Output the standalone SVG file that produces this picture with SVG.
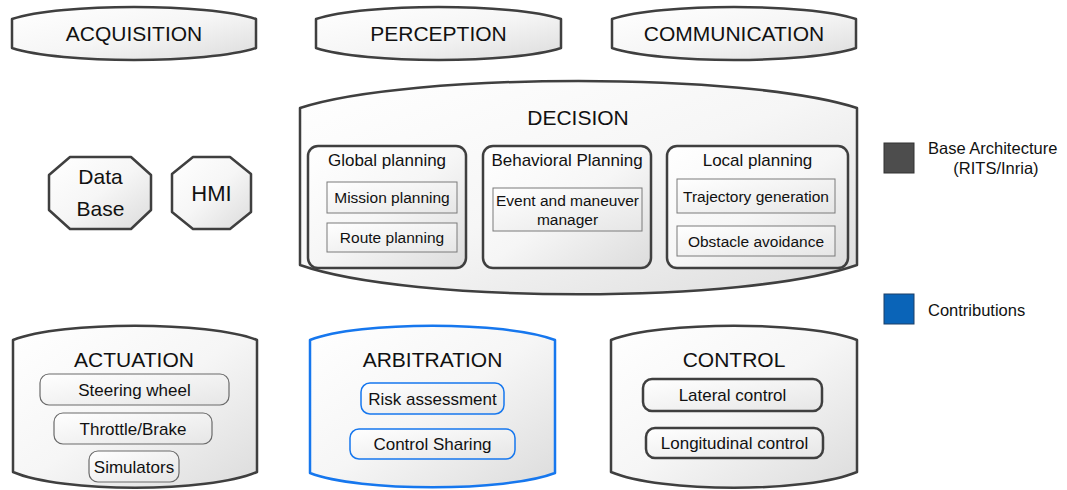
<svg xmlns="http://www.w3.org/2000/svg" width="1067" height="490" viewBox="0 0 1067 490">
<defs>
<linearGradient id="g" x1="0" y1="0" x2="1" y2="1">
<stop offset="0" stop-color="#ffffff"/>
<stop offset="0.5" stop-color="#f6f6f6"/>
<stop offset="1" stop-color="#dcdcdc"/>
</linearGradient>
<linearGradient id="gi" x1="0" y1="0" x2="1" y2="1">
<stop offset="0" stop-color="#ffffff"/>
<stop offset="1" stop-color="#e6e6e6"/>
</linearGradient>
<style>
text{font-family:"Liberation Sans",Arial,sans-serif;fill:#111;text-anchor:middle}
.cyl{fill:url(#g);stroke:#3f3f3f;stroke-width:2.5;stroke-linejoin:round}
.cylb{fill:url(#g);stroke:#1677ee;stroke-width:2.5;stroke-linejoin:round}
.grp{fill:url(#g);stroke:#3f3f3f;stroke-width:2.5}
.inr{fill:url(#gi);stroke:#7a7a7a;stroke-width:1}
.act{fill:url(#gi);stroke:#6a6a6a;stroke-width:1.2}
.arb{fill:url(#gi);stroke:#1677ee;stroke-width:1.5}
.ctl{fill:url(#gi);stroke:#3f3f3f;stroke-width:2.5}
.t1{font-size:21px}
.t2{font-size:17px}
.t3{font-size:15.5px}
.t4{font-size:17px}
.lg{font-size:16.5px;text-anchor:start}
</style>
</defs>
<g id="acquisition">
<path class="cyl" d="M12,19 C61,3 207,3 256,19 L256,48 C207,64 61,64 12,48 Z"/>
<text class="t1" x="134" y="40.5">ACQUISITION</text>
</g>
<g id="perception">
<path class="cyl" d="M316,19 C365,3 512,3 561,19 L561,48 C512,64 365,64 316,48 Z"/>
<text class="t1" x="438.5" y="40.5">PERCEPTION</text>
</g>
<g id="communication">
<path class="cyl" d="M612,19 C661,3 807,3 856,19 L856,48 C807,64 661,64 612,48 Z"/>
<text class="t1" x="734" y="40.5">COMMUNICATION</text>
</g>
<g id="decision">
<path class="cyl" d="M300,108 C411,72 746,72 857,108 L857,265 C746,304 411,304 300,265 Z"/>
<text class="t1" x="578" y="124.5">DECISION</text>
</g>
<g id="global-planning">
<rect class="grp" x="308" y="146" width="158" height="122" rx="10"/>
<text class="t2" x="387" y="166">Global planning</text>
<rect class="inr" x="327" y="182" width="130" height="31"/>
<text class="t3" x="392" y="203">Mission planning</text>
<rect class="inr" x="327" y="223" width="130" height="29"/>
<text class="t3" x="392" y="243">Route planning</text>
</g>
<g id="behavioral-planning">
<rect class="grp" x="483" y="146" width="168" height="122" rx="10"/>
<text class="t2" x="567" y="166">Behavioral Planning</text>
<rect class="inr" x="493" y="188" width="149" height="43"/>
<text class="t3" x="567.5" y="206">Event and maneuver</text>
<text class="t3" x="567.5" y="225">manager</text>
</g>
<g id="local-planning">
<rect class="grp" x="667" y="146" width="181" height="122" rx="10"/>
<text class="t2" x="757.5" y="166">Local planning</text>
<rect class="inr" x="677" y="179" width="158" height="34"/>
<text class="t3" x="756" y="201.5">Trajectory generation</text>
<rect class="inr" x="677" y="226" width="158" height="30"/>
<text class="t3" x="756" y="246.5">Obstacle avoidance</text>
</g>
<g id="database">
<polygon class="cyl" points="70,157 131,157 151,175 151,210 131,229 70,229 49,210 49,175"/>
<text class="t1" x="100.5" y="184">Data</text>
<text class="t1" x="100.5" y="216">Base</text>
</g>
<g id="hmi">
<polygon class="cyl" points="193,157 230,157 251,174 251,212 230,229 193,229 172,212 172,174"/>
<text style="font-size:22px" x="211.5" y="201">HMI</text>
</g>
<g id="actuation">
<path class="cyl" d="M13,340 C62,321 208,321 257,340 L257,472 C208,493 62,493 13,472 Z"/>
<text class="t1" x="134" y="367">ACTUATION</text>
<rect class="act" x="40" y="374" width="189" height="31" rx="9"/>
<text class="t4" x="134.5" y="395.5">Steering wheel</text>
<rect class="act" x="54" y="413" width="158" height="31" rx="9"/>
<text class="t4" x="133" y="434.5">Throttle/Brake</text>
<rect class="act" x="89" y="451" width="90" height="31" rx="9"/>
<text class="t4" x="134" y="472.5">Simulators</text>
</g>
<g id="arbitration">
<path class="cylb" d="M310,340 C359,321 506,321 555,340 L555,473 C506,492 359,492 310,473 Z"/>
<text class="t1" x="432.5" y="367">ARBITRATION</text>
<rect class="arb" x="361" y="383" width="143" height="31" rx="9"/>
<text class="t4" x="432.5" y="404.5">Risk assessment</text>
<rect class="arb" x="350" y="429" width="165" height="30" rx="9"/>
<text class="t4" x="432.5" y="450">Control Sharing</text>
</g>
<g id="control">
<path class="cyl" d="M611,340 C660,321 808,321 857,340 L857,472 C808,493 660,493 611,472 Z"/>
<text class="t1" x="734" y="367">CONTROL</text>
<rect class="ctl" x="643" y="379" width="179" height="32" rx="9"/>
<text class="t4" x="732.5" y="401">Lateral control</text>
<rect class="ctl" x="646" y="428" width="177" height="30" rx="9"/>
<text class="t4" x="734.5" y="449">Longitudinal control</text>
</g>
<g id="connectors"></g>
<g id="legend">
<rect x="884" y="143" width="30" height="30" fill="#4d4d4d" stroke="#333" stroke-width="1"/>
<text class="lg" x="928" y="154">Base Architecture</text>
<text class="lg" x="996" y="174" style="text-anchor:middle">(RITS/Inria)</text>
<rect x="884" y="294" width="30" height="30" fill="#0a64b8" stroke="#1d3f66" stroke-width="1"/>
<text class="lg" x="928" y="316">Contributions</text>
</g>
</svg>
